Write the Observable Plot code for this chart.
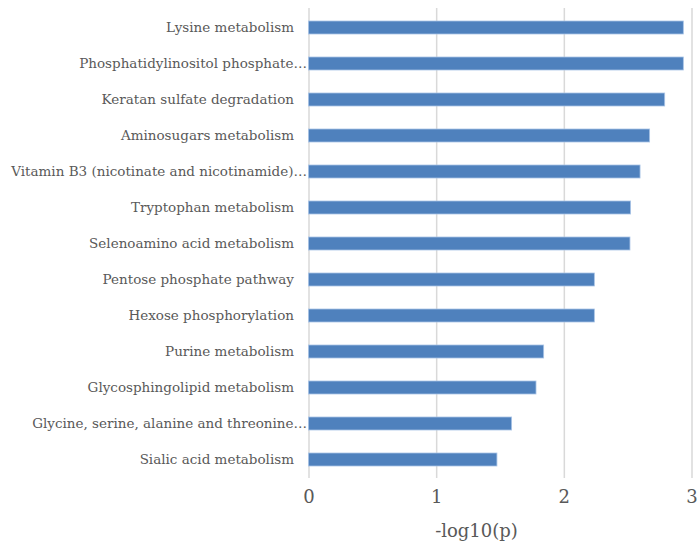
<!DOCTYPE html>
<html>
<head>
<meta charset="utf-8">
<script src="https://cdn.jsdelivr.net/npm/d3@7"></script>
<script src="https://cdn.jsdelivr.net/npm/@observablehq/plot@0.6"></script>
<style>
  html, body { margin: 0; padding: 0; background: #fff; }
  #chart svg { display: block; }
</style>
</head>
<body>
<div id="chart"></div>
<script>
const pathways = [
  "Lysine metabolism",
  "Phosphatidylinositol phosphate…",
  "Keratan sulfate degradation",
  "Aminosugars metabolism",
  "Vitamin B3 (nicotinate and nicotinamide)…",
  "Tryptophan metabolism",
  "Selenoamino acid metabolism",
  "Pentose phosphate pathway",
  "Hexose phosphorylation",
  "Purine metabolism",
  "Glycosphingolipid metabolism",
  "Glycine, serine, alanine and threonine…",
  "Sialic acid metabolism"
];
const values = [2.936, 2.936, 2.79, 2.672, 2.597, 2.523, 2.518, 2.239, 2.239, 1.842, 1.782, 1.591, 1.476];
const xTicks = [0, 1, 2, 3];
const xLabel = "-log10(p)";

const data = pathways.map((p, i) => ({pathway: p, value: values[i]}));
const font = "'DejaVu Serif', 'Liberation Serif', serif";
const textColor = "#595959";

const chart = Plot.plot({
  width: 700,
  height: 544,
  marginLeft: 308.5,
  marginRight: 8.5,
  marginTop: 8,
  marginBottom: 66,
  style: {fontFamily: font, color: textColor, background: "#fff"},
  x: {domain: [0, 3], axis: null},
  y: {domain: pathways, paddingInner: 0.65, paddingOuter: 0.325, axis: null},
  marks: [
    Plot.gridX(xTicks, {stroke: "#d9d9d9", strokeOpacity: 1, strokeWidth: 1.5}),
    Plot.barX(data, {x: "value", y: "pathway", fill: "#4f81bd", stroke: "#a9c4e6", strokeWidth: 0.8}),
    Plot.axisX(xTicks, {tickSize: 0, tickPadding: 12, fontSize: 18, fill: textColor, tickFormat: d3.format("d"), label: null}),
    Plot.text([xLabel], {text: d => d, frameAnchor: "bottom", dy: 58, dx: -24, fontSize: 18, fill: textColor}),
    Plot.text(data.filter(d => !d.pathway.endsWith("…")), {y: "pathway", text: "pathway", frameAnchor: "left",
      textAnchor: "end", dx: -15, fontSize: 13.5, fill: textColor}),
    Plot.text(data.filter(d => d.pathway.endsWith("…")), {y: "pathway", text: "pathway", frameAnchor: "left",
      textAnchor: "end", dx: -2, fontSize: 13.5, fill: textColor})
  ]
});
document.getElementById("chart").append(chart);
</script>
</body>
</html>
